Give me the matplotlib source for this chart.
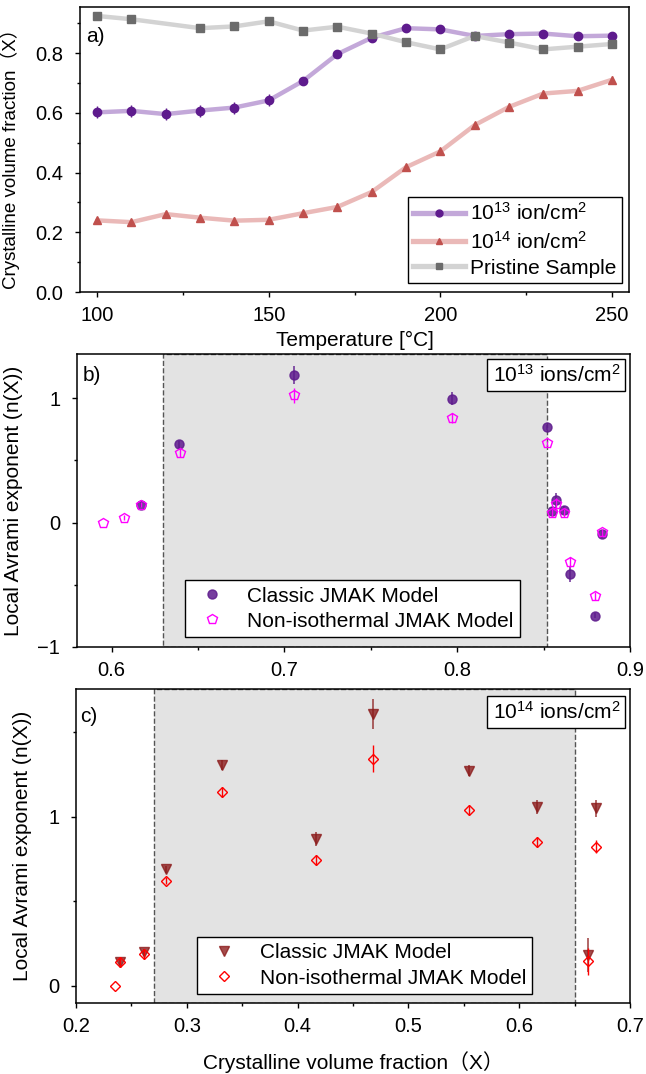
import matplotlib
matplotlib.use("Agg")
import matplotlib.pyplot as plt
import numpy as np
from matplotlib.ticker import MultipleLocator, FormatStrFormatter
from matplotlib.lines import Line2D

plt.rcParams['font.family'] = ['Liberation Sans', 'Noto Sans CJK SC', 'DejaVu Sans']
plt.rcParams['mathtext.fontset'] = 'custom'
plt.rcParams['mathtext.rm'] = 'Liberation Sans'
plt.rcParams['mathtext.it'] = 'Liberation Sans'
plt.rcParams['axes.unicode_minus'] = True

FS = 15      # labels / legends
TFS = 14.5   # tick labels

# ---------------- Panel a data ----------------
temperature = [100, 110, 120, 130, 140, 150, 160, 170, 180, 190, 200, 210, 220, 230, 240, 250]
x_1e13 = [0.602, 0.607, 0.596, 0.608, 0.618, 0.642, 0.707, 0.797, 0.852, 0.884, 0.880, 0.858, 0.864, 0.866, 0.857, 0.859]
err_1e13 = [0.02, 0.02, 0.02, 0.02, 0.02, 0.02, 0.015, 0.01, 0.01, 0.01, 0.01, 0.01, 0.01, 0.01, 0.01, 0.01]
x_1e14 = [0.240, 0.234, 0.261, 0.249, 0.239, 0.242, 0.264, 0.285, 0.335, 0.418, 0.471, 0.559, 0.620, 0.665, 0.674, 0.711]
err_1e14 = [0.012] * 16
temp_pristine = [100, 110, 130, 140, 150, 160, 170, 180, 190, 200, 210, 220, 230, 240, 250]
x_pristine = [0.925, 0.914, 0.884, 0.890, 0.907, 0.876, 0.889, 0.866, 0.837, 0.813, 0.858, 0.836, 0.813, 0.822, 0.831]
err_pristine = [0.01] * 15

# ---------------- Panel b data (1e13) ----------------
b_classic_x = [0.617, 0.639, 0.7055, 0.797, 0.852, 0.855, 0.857, 0.862, 0.865, 0.880, 0.884]
b_classic_n = [0.142, 0.627, 1.185, 0.995, 0.767, 0.091, 0.180, 0.099, -0.416, -0.748, -0.094]
b_classic_err = [0.02, 0.03, 0.07, 0.05, 0.02, 0.03, 0.06, 0.03, 0.06, 0.02, 0.03]
b_noniso_x = [0.595, 0.607, 0.617, 0.6398, 0.7055, 0.797, 0.852, 0.855, 0.857, 0.862, 0.865, 0.880, 0.884]
b_noniso_n = [0.0, 0.04, 0.142, 0.560, 1.024, 0.836, 0.635, 0.075, 0.145, 0.078, -0.314, -0.592, -0.080]
b_noniso_err = [0.0, 0.02, 0.02, 0.03, 0.06, 0.04, 0.02, 0.03, 0.05, 0.03, 0.04, 0.03, 0.03]

# ---------------- Panel c data (1e14) ----------------
c_classic_x = [0.2397, 0.2612, 0.2809, 0.3314, 0.4164, 0.468, 0.5545, 0.6165, 0.662, 0.669]
c_classic_n = [0.142, 0.197, 0.689, 1.305, 0.868, 1.606, 1.272, 1.055, 0.183, 1.049]
c_classic_err = [0.02, 0.02, 0.02, 0.03, 0.04, 0.09, 0.03, 0.04, 0.10, 0.05]
c_noniso_x = [0.2349, 0.2397, 0.2616, 0.2809, 0.3314, 0.4164, 0.468, 0.5545, 0.6165, 0.662, 0.669]
c_noniso_n = [0.0, 0.142, 0.187, 0.620, 1.144, 0.742, 1.341, 1.041, 0.850, 0.144, 0.823]
c_noniso_err = [0.0, 0.03, 0.03, 0.02, 0.03, 0.03, 0.08, 0.03, 0.03, 0.08, 0.04]

fig = plt.figure(figsize=(6.46, 10.74), dpi=100)
W, H = 646.0, 1074.0

def add_ax(l, r, t, b):
    return fig.add_axes([l / W, 1 - b / H, (r - l) / W, (b - t) / H])

axa = add_ax(80, 629, 7, 292)
axb = add_ax(77, 630, 354, 647)
axc = add_ax(76, 630, 689, 1003)

def style(ax):
    for s in ax.spines.values():
        s.set_linewidth(1.1)
    ax.tick_params(which='major', direction='out', length=3.5, width=1, labelsize=TFS)
    ax.tick_params(which='minor', direction='out', length=2.2, width=1)
    ax.tick_params(axis='x', which='major', pad=6.5)
    ax.tick_params(axis='y', which='major', pad=8.5)

def box_legend(ax, handles, labels, **kw):
    lg = ax.legend(handles, labels, fontsize=FS, frameon=True, fancybox=False,
                   edgecolor='black', framealpha=1, borderaxespad=0, numpoints=1, **kw)
    lg.get_frame().set_linewidth(1.0)
    return lg

# ---------------- Panel a ----------------
style(axa)
series = [
    (temperature, x_1e13, err_1e13, 'o', '#5e1b8d', '#c3a8d9', r'10$^{13}$ ion/cm$^2$', 6),
    (temperature, x_1e14, err_1e14, '^', '#c0504d', '#eab9b8', r'10$^{14}$ ion/cm$^2$', 6),
    (temp_pristine, x_pristine, err_pristine, 's', '#6b6b6b', '#d3d3d3', 'Pristine Sample', 5.5),
]
handles, labels = [], []
for t, v, e, m, mc, lc, lab, ms in series:
    axa.plot(t, v, '-', color=lc, lw=3.2, zorder=2, solid_capstyle='round')
    axa.errorbar(t, v, yerr=e, fmt=m, color=mc, ms=ms, elinewidth=1, capsize=0, zorder=3)
    handles.append(Line2D([], [], color=lc, lw=3.8, marker=m, mfc=mc, mec=mc, ms=ms - 1))
    labels.append(lab)
axa.set_xlim(95, 255)
axa.set_ylim(0, 0.955)
axa.xaxis.set_major_locator(MultipleLocator(50))
axa.xaxis.set_minor_locator(MultipleLocator(25))
axa.yaxis.set_major_locator(MultipleLocator(0.2))
axa.yaxis.set_minor_locator(MultipleLocator(0.1))
axa.yaxis.set_major_formatter(FormatStrFormatter('%.1f'))
axa.set_xlabel('Temperature [°C]', fontsize=FS, labelpad=4)
axa.set_ylabel('Crystalline volume fraction（X）', fontsize=13.5)
axa.yaxis.set_label_coords((20 - 80) / 549, 0.485)
axa.text(0.012, 0.895, 'a)', transform=axa.transAxes, fontsize=FS, va='center', ha='left')
box_legend(axa, handles, labels, loc='lower right', bbox_to_anchor=(0.987, 0.032),
           handlelength=2.5, handletextpad=0.25, borderpad=0.25, labelspacing=0.3)

# ---------------- Panel b ----------------
style(axb)
axb.axvspan(0.63, 0.852, facecolor='#e3e3e3', edgecolor='#555555', ls='--', lw=1, zorder=0)
c_b1, c_b2 = '#5e1b8d', '#ff00ff'
axb.errorbar(b_classic_x, b_classic_n, yerr=b_classic_err, fmt='o', color=c_b1, alpha=0.85,
             ms=6.5, elinewidth=1.2, capsize=0, zorder=3)
axb.errorbar(b_noniso_x, b_noniso_n, yerr=b_noniso_err, fmt='p', color=c_b2, mfc='none',
             mec=c_b2, ms=7.5, mew=1.0, elinewidth=1, capsize=0, zorder=4)
axb.set_xlim(0.58, 0.9)
axb.set_ylim(-1, 1.354)
axb.xaxis.set_major_locator(MultipleLocator(0.1))
axb.xaxis.set_minor_locator(MultipleLocator(0.05))
axb.yaxis.set_major_locator(MultipleLocator(1))
axb.yaxis.set_minor_locator(MultipleLocator(0.5))
axb.xaxis.set_major_formatter(FormatStrFormatter('%.1f'))
axb.set_ylabel('Local Avrami exponent (n(X))', fontsize=FS)
axb.yaxis.set_label_coords((23 - 77) / 553, 0.5)
axb.text(0.01, 0.928, 'b)', transform=axb.transAxes, fontsize=FS, va='center', ha='left')
axb.text(0.982, 0.966, r'10$^{13}$ ions/cm$^2$', transform=axb.transAxes, fontsize=FS,
         ha='right', va='top',
         bbox=dict(boxstyle='square,pad=0.25', facecolor='white', edgecolor='black', lw=1))
hb = [Line2D([], [], ls='none', marker='o', color=c_b1, alpha=0.85, ms=6.5),
      Line2D([], [], ls='none', marker='p', mfc='none', mec=c_b2, ms=7.5, mew=1.0)]
box_legend(axb, hb, ['Classic JMAK Model', 'Non-isothermal JMAK Model'],
           loc='lower left', bbox_to_anchor=(0.195, 0.034), handlelength=2,
           handletextpad=0.7, borderpad=0.3, labelspacing=0.3)

# ---------------- Panel c ----------------
style(axc)
axc.axvspan(0.27, 0.65, facecolor='#e3e3e3', edgecolor='#555555', ls='--', lw=1, zorder=0)
c_c1, c_c2 = '#8b1a1a', '#ff0000'
axc.errorbar(c_classic_x, c_classic_n, yerr=c_classic_err, fmt='v', color=c_c1, alpha=0.78,
             ms=7.5, elinewidth=1.2, capsize=0, zorder=3)
axc.errorbar(c_noniso_x, c_noniso_n, yerr=c_noniso_err, fmt='D', color=c_c2, mfc='none',
             mec=c_c2, ms=5.6, mew=1.0, elinewidth=1, capsize=0, zorder=4)
axc.set_xlim(0.2, 0.7)
axc.set_ylim(-0.102, 1.754)
axc.xaxis.set_major_locator(MultipleLocator(0.1))
axc.xaxis.set_minor_locator(MultipleLocator(0.05))
axc.yaxis.set_major_locator(MultipleLocator(1))
axc.yaxis.set_minor_locator(MultipleLocator(0.5))
axc.xaxis.set_major_formatter(FormatStrFormatter('%.1f'))
axc.set_ylabel('Local Avrami exponent (n(X))', fontsize=FS)
axc.yaxis.set_label_coords((32 - 76) / 554, 0.5)
axc.set_xlabel('Crystalline volume fraction（X）', fontsize=FS, labelpad=11)
axc.text(0.008, 0.914, 'c)', transform=axc.transAxes, fontsize=FS, va='center', ha='left')
axc.text(0.982, 0.962, r'10$^{14}$ ions/cm$^2$', transform=axc.transAxes, fontsize=FS,
         ha='right', va='top',
         bbox=dict(boxstyle='square,pad=0.25', facecolor='white', edgecolor='black', lw=1))
hc = [Line2D([], [], ls='none', marker='v', color=c_c1, alpha=0.78, ms=7.5),
      Line2D([], [], ls='none', marker='D', mfc='none', mec=c_c2, ms=5.6, mew=1.0)]
box_legend(axc, hc, ['Classic JMAK Model', 'Non-isothermal JMAK Model'],
           loc='lower left', bbox_to_anchor=(0.219, 0.029), handlelength=2,
           handletextpad=0.7, borderpad=0.3, labelspacing=0.3)

fig.savefig('out.png', dpi=100)
